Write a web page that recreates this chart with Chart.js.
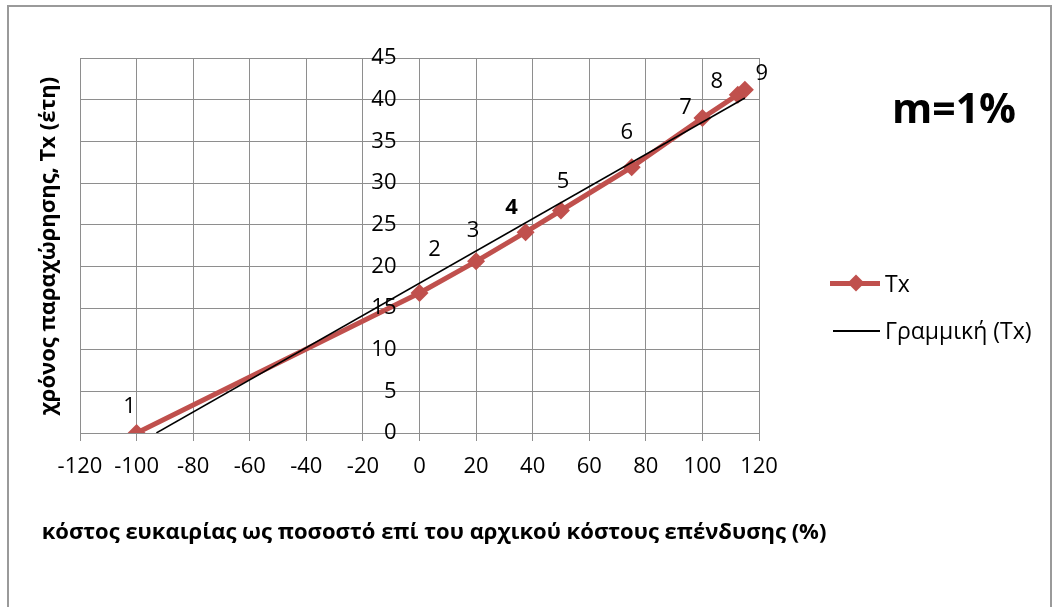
<!DOCTYPE html>
<html lang="el">
<head>
    <meta charset="UTF-8">
    <title>Tx m=1%</title>
    <script src="https://cdn.jsdelivr.net/npm/chart.js@4.4.1/dist/chart.umd.min.js"></script>
    <style>
        *{margin:0; padding:0;}
        body{width:1059px; height:607px; background:#fff; overflow:hidden; font-family:'Open Sans', sans-serif;}
        #wrap{position:relative; width:1059px; height:607px;}
        #wrap canvas{position:absolute; left:0; top:0;}
        .frame{position:absolute; left:7px; top:5px; width:1041px; height:640px; border:2px solid #9a9a9a;}
        .m_label{position:absolute; left:954px; top:107px; transform:translate(-50%, -50%); font-size:41px; font-weight:700; color:#000; white-space:nowrap;}
        .y_title{position:absolute; left:46px; top:246px; transform:translate(-50%, -50%) rotate(-90deg); white-space:nowrap; font-size:22px; font-weight:700;}
        .x_title{position:absolute; left:434px; top:530px; transform:translate(-50%, -50%); white-space:nowrap; font-size:22px; font-weight:700;}
        .legend{position:absolute; left:830px; top:266px; font-size:23px;}
        .legend .item{position:relative; height:47px; padding-left:55px; line-height:34px;}
        .legend .red{position:absolute; left:0; top:15px; width:50px; height:5px; background:#c0504d;}
        .legend .dia{position:absolute; left:20px; top:11px; width:12px; height:12px; background:#c0504d; transform:rotate(45deg);}
        .legend .black{position:absolute; left:3px; top:17px; width:47px; height:2px; background:#000;}
    </style>
</head>
<body>
    <div id="wrap">
        <canvas id="txChart" width="1059" height="607"></canvas>
        <div class="frame"></div>
        <div class="m_label">m=1%</div>
        <div class="y_title">χρόνος παραχώρησης, Tx (έτη)</div>
        <div class="x_title">κόστος ευκαιρίας ως ποσοστό επί του αρχικού κόστους επένδυσης (%)</div>
        <div class="legend">
            <div class="item"><span class="red"></span><span class="dia"></span>Tx</div>
            <div class="item"><span class="black"></span>Γραμμική (Tx)</div>
        </div>
    </div>

    <script>
        // data
        const costPct = [-100, 0, 20, 37.5, 50, 75, 100, 112.5, 115];
        const txYears = [0, 16.8, 20.6, 24.1, 26.7, 31.9, 37.8, 40.6, 41.2];
        const pointNames = ['1', '2', '3', '4', '5', '6', '7', '8', '9'];
        const trendX = [-93, 115];
        const trendY = [0, 40.2];
        const xTicks = [-120, -100, -80, -60, -40, -20, 0, 20, 40, 60, 80, 100, 120];
        const yTicks = [0, 5, 10, 15, 20, 25, 30, 35, 40, 45];

        // label placement (pixels from the point)
        const labelOffsets = [[-7,-26],[15,-43],[-3,-31],[-14,-24],[2,-29],[-5,-34],[-17,-10],[-21,-13],[17,-16]];

        const gridColor = '#8e8e8e';
        const font = "'Open Sans', sans-serif";

        // point numbers + y tick labels next to the axis that sits at x = 0
        const chartTexts = {
            id:'chartTexts',
            afterDatasetsDraw:function(chart){
                const ctx = chart.ctx;
                const meta = chart.getDatasetMeta(1);
                const xs = chart.scales.x, ys = chart.scales.y;
                ctx.save();
                ctx.fillStyle = '#000';
                ctx.textAlign = 'center';
                ctx.textBaseline = 'middle';
                meta.data.forEach(function(el, i){
                    ctx.font = (i === 3 ? '700 ' : '400 ') + '22px ' + font;
                    ctx.fillText(pointNames[i], el.x + labelOffsets[i][0], el.y + labelOffsets[i][1]);
                });
                ctx.font = '400 22px ' + font;
                ctx.textAlign = 'right';
                const axisX = xs.getPixelForValue(0);
                yTicks.forEach(function(v){
                    ctx.fillText(String(v), axisX - 23, ys.getPixelForValue(v));
                });
                ctx.restore();
            }
        };

        const config = {
            type:'scatter',
            data:{
                datasets:[
                    {
                        label:'Γραμμική (Tx)',
                        data:trendX.map(function(x, i){ return {x:x, y:trendY[i]}; }),
                        showLine:true,
                        borderColor:'#000',
                        borderWidth:1.5,
                        pointRadius:0,
                        order:0
                    },
                    {
                        label:'Tx',
                        data:costPct.map(function(x, i){ return {x:x, y:txYears[i]}; }),
                        showLine:true,
                        borderColor:'#c0504d',
                        backgroundColor:'#c0504d',
                        borderWidth:5,
                        pointStyle:'rectRot',
                        pointRadius:9,
                        pointBorderWidth:0,
                        order:1
                    }
                ]
            },
            options:{
                responsive:false,
                animation:false,
                layout:{padding:{left:80, right:300, top:58, bottom:134}},
                plugins:{legend:{display:false}, tooltip:{enabled:false}},
                scales:{
                    x:{
                        type:'linear',
                        position:'bottom',
                        min:-120,
                        max:120,
                        afterBuildTicks:function(scale){ scale.ticks = xTicks.map(function(v){ return {value:v}; }); },
                        afterFit:function(scale){ scale.height = 40; },
                        grid:{color:gridColor, lineWidth:1, tickLength:8},
                        border:{color:gridColor},
                        ticks:{color:'#000', font:{family:font, size:22}, padding:13, maxRotation:0, autoSkip:false}
                    },
                    y:{
                        type:'linear',
                        position:{x:0},
                        min:0,
                        max:45,
                        afterBuildTicks:function(scale){ scale.ticks = yTicks.map(function(v){ return {value:v}; }); },
                        grid:{color:gridColor, lineWidth:1, tickLength:8},
                        border:{color:gridColor},
                        ticks:{display:false}
                    }
                }
            },
            plugins:[chartTexts]
        };

        const ctx = document.querySelector('#txChart').getContext('2d');
        const txChart = new Chart(ctx, config);
    </script>
</body>
</html>
